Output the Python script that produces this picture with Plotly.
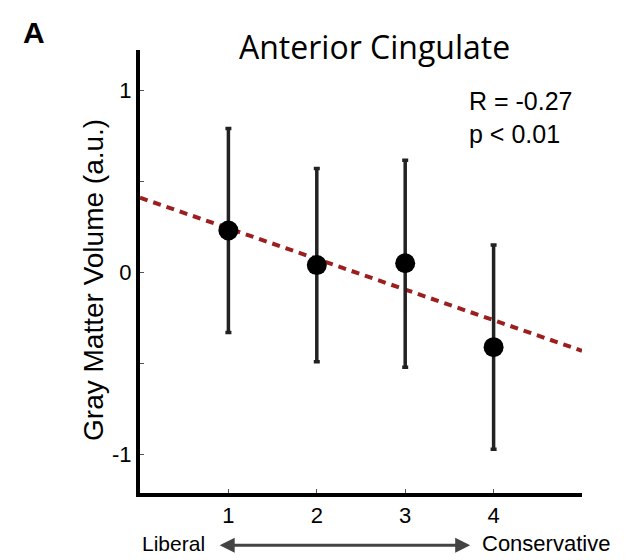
import plotly.graph_objects as go

groups = [1, 2, 3, 4]
means = [0.23, 0.04, 0.05, -0.41]
err_upper = [0.79, 0.57, 0.615, 0.15]
err_lower = [-0.33, -0.49, -0.52, -0.97]
fit_x = [0, 5]
fit_y = [0.41, -0.43]
y_tickvals = [-1, -0.5, 0, 0.5, 1]
y_ticktext = ["-1", "", "0", "", "1"]
x_tickvals = [1, 2, 3, 4]
x_ticktext = ["1", "2", "3", "4"]

plus = [u - m for u, m in zip(err_upper, means)]
minus = [m - l for m, l in zip(means, err_lower)]

fig = go.Figure()
fig.add_trace(go.Scatter(
    x=fit_x, y=fit_y, mode="lines",
    line=dict(color="#9c1f1f", width=4, dash="8px,6px"),
    showlegend=False, hoverinfo="skip"))
fig.add_trace(go.Scatter(
    x=groups, y=means, mode="markers",
    marker=dict(color="black", size=20),
    error_y=dict(type="data", symmetric=False, array=plus, arrayminus=minus,
                 color="#222222", thickness=3.5, width=3),
    showlegend=False))

fig.update_layout(
    width=629, height=560,
    margin=dict(l=140, r=47, t=50, b=67),
    paper_bgcolor="white", plot_bgcolor="white",
    font=dict(family="Liberation Sans, Arial", size=22, color="black"),
    xaxis=dict(range=[0, 5], tickvals=x_tickvals, ticktext=x_ticktext,
               ticks="inside", ticklen=4, tickwidth=1, tickcolor="#555",
               showline=True, linewidth=4, linecolor="black",
               showgrid=False, zeroline=False, tickfont=dict(size=22)),
    yaxis=dict(range=[-1.21, 1.22], tickvals=y_tickvals, ticktext=y_ticktext,
               ticks="inside", ticklen=4, tickwidth=1, tickcolor="#555",
               showline=True, linewidth=4, linecolor="black",
               showgrid=False, zeroline=False, tickfont=dict(size=22)),
)

fig.add_annotation(text="Gray Matter Volume (a.u.)", xref="paper", yref="paper",
                   x=-0.104, y=0.481, textangle=-90, showarrow=False,
                   xanchor="center", yanchor="middle",
                   font=dict(size=28, color="black"))
fig.add_annotation(text="Anterior Cingulate", xref="paper", yref="paper",
                   x=0.53, y=1.0, yshift=4, showarrow=False, yanchor="middle",
                   font=dict(family="Open Sans, Liberation Sans", size=32, color="black"))
fig.add_annotation(text="<b>A</b>", xref="paper", yref="paper",
                   x=-0.27, y=1.0, yshift=18, showarrow=False, xanchor="left", yanchor="middle",
                   font=dict(family="Liberation Sans, Arial", size=30, color="black"))
fig.add_annotation(text="R = -0.27<br>p < 0.01", xref="paper", yref="paper",
                   x=0.74, y=0.848, showarrow=False, xanchor="left", yanchor="middle",
                   align="left",
                   font=dict(size=25, color="black"))
fig.add_annotation(text="Liberal", xref="paper", yref="paper",
                   x=0.0, y=-0.115, showarrow=False, xanchor="left", yanchor="middle",
                   font=dict(size=21, color="black"))
fig.add_annotation(text="Conservative", xref="paper", yref="paper",
                   x=0.77, y=-0.115, showarrow=False, xanchor="left", yanchor="middle",
                   font=dict(size=22, color="black"))
fig.add_annotation(text="", xref="paper", yref="paper",
                   x=0.747, y=-0.118, ax=-252, ay=0,
                   showarrow=True, arrowhead=2, arrowside="end+start",
                   arrowsize=1, arrowwidth=3, arrowcolor="#444")

fig.write_html("out.html")
